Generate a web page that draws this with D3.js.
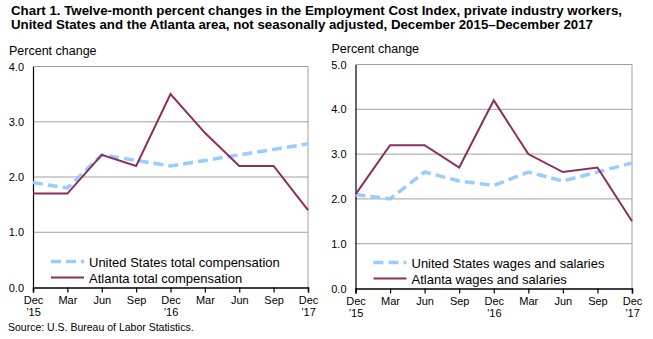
<!DOCTYPE html>
<html>
<head>
<meta charset="utf-8">
<script src="https://cdn.jsdelivr.net/npm/d3@7"></script>
<style>
  body { margin: 0; background: #fff; }
  svg { display: block; font-family: Arial, "Liberation Sans", sans-serif; }
  .title { font-weight: bold; font-size: 13.5px; }
  .unit { font-size: 12.5px; }
  .tick text { font-size: 11px; fill: #000; }
  .legend text { font-size: 13px; }
  .source { font-size: 10.5px; }
</style>
</head>
<body>
<div id="chart"></div>
<script>
const periods = ['Dec|\u201915', 'Mar', 'Jun', 'Sep', 'Dec|\u201916', 'Mar', 'Jun', 'Sep', 'Dec|\u201917'];

const usTotal = [1.9, 1.8, 2.4, 2.3, 2.2, 2.3, 2.4, 2.5, 2.6];
const atlTotal = [1.7, 1.7, 2.4, 2.2, 3.5, 2.8, 2.2, 2.2, 1.4];
const usWages = [2.1, 2.0, 2.6, 2.4, 2.3, 2.6, 2.4, 2.6, 2.8];
const atlWages = [2.1, 3.2, 3.2, 2.7, 4.2, 3.0, 2.6, 2.7, 1.5];

const leftTicks = [0, 1, 2, 3, 4];
const rightTicks = [0, 1, 2, 3, 4, 5];

const colors = { us: '#99ccff', atl: '#8c2d5c' };

const width = 653, height = 339;

const svg = d3.select('#chart').append('svg')
  .attr('width', width)
  .attr('height', height);

const titleLines = [
  'Chart 1. Twelve-month percent changes in the Employment Cost  Index, private industry  workers,',
  'United States and the Atlanta area, not seasonally adjusted, December 2015\u2013December 2017'
];
// the original title is set in a condensed face, so squeeze each line to its width
const titleWidths = [611, 582];

svg.append('g').selectAll('text')
  .data(titleLines)
  .join('text')
  .attr('class', 'title')
  .attr('x', 11)
  .attr('y', (d, i) => 15 + i * 14)
  .attr('textLength', (d, i) => titleWidths[i])
  .attr('lengthAdjust', 'spacingAndGlyphs')
  .text(d => d);

svg.append('text').attr('class', 'source').attr('x', 8).attr('y', 331)
  .text('Source: U.S. Bureau of Labor Statistics.');

function panel(opts) {
  const { left, right, top, bottom, max, ticks, us, atl, labels } = opts;

  const x = d3.scalePoint().domain(d3.range(periods.length)).range([left, right]);
  const y = d3.scaleLinear().domain([0, max]).range([bottom, top]);

  const g = svg.append('g');

  g.append('text').attr('class', 'unit')
    .attr('x', left - 24).attr('y', top - 12)
    .text('Percent change');

  // gridlines
  g.append('g').selectAll('line')
    .data(ticks.filter(t => t > 0))
    .join('line')
    .attr('x1', left).attr('x2', right)
    .attr('y1', d => y(d)).attr('y2', d => y(d))
    .attr('stroke', '#a0a0a0').attr('stroke-width', 1);

  g.append('line')
    .attr('x1', right).attr('x2', right)
    .attr('y1', top).attr('y2', bottom)
    .attr('stroke', '#a0a0a0');

  const yAxis = g.append('g')
    .attr('transform', `translate(${left},0)`)
    .call(d3.axisLeft(y).tickValues(ticks).tickFormat(d3.format('.1f')).tickSize(0).tickPadding(9));
  yAxis.select('.domain').attr('stroke', '#000').attr('stroke-width', 1.2);

  const xAxis = g.append('g')
    .attr('transform', `translate(0,${bottom})`)
    .call(d3.axisBottom(x).tickSize(5).tickFormat(''));
  xAxis.select('.domain').attr('stroke', '#000').attr('stroke-width', 1.5);
  xAxis.selectAll('.tick line').attr('stroke', '#000').attr('stroke-width', 1.2);

  xAxis.selectAll('.tick').each(function (d) {
    const parts = periods[d].split('|');
    const t = d3.select(this).append('text')
      .attr('fill', '#000').attr('text-anchor', 'middle');
    parts.forEach((p, i) => t.append('tspan').attr('x', 0).attr('y', 16 + i * 12).text(p));
  });

  const line = d3.line().x((d, i) => x(i)).y(d => y(d));

  g.append('path').datum(us)
    .attr('d', line).attr('fill', 'none')
    .attr('stroke', colors.us).attr('stroke-width', 3.5)
    .attr('stroke-dasharray', '10,5');

  g.append('path').datum(atl)
    .attr('d', line).attr('fill', 'none')
    .attr('stroke', colors.atl).attr('stroke-width', 2)
    .attr('stroke-linejoin', 'miter');

  const lg = g.append('g').attr('class', 'legend')
    .attr('transform', `translate(${left + 18},${bottom - 26})`);
  lg.append('line').attr('x1', 0).attr('x2', 33).attr('y1', 0).attr('y2', 0)
    .attr('stroke', colors.us).attr('stroke-width', 3.5).attr('stroke-dasharray', '10,5');
  lg.append('text').attr('x', 38).attr('y', 5).text(labels[0]);
  lg.append('line').attr('x1', 0).attr('x2', 33).attr('y1', 16).attr('y2', 16)
    .attr('stroke', colors.atl).attr('stroke-width', 2);
  lg.append('text').attr('x', 38).attr('y', 21).text(labels[1]);
}

panel({
  left: 33, right: 308, top: 66.5, bottom: 287.5, max: 4, ticks: leftTicks,
  us: usTotal, atl: atlTotal,
  labels: ['United States total compensation', 'Atlanta total compensation']
});

panel({
  left: 355.5, right: 632, top: 64.5, bottom: 288.5, max: 5, ticks: rightTicks,
  us: usWages, atl: atlWages,
  labels: ['United States wages and salaries', 'Atlanta wages and salaries']
});
</script>
</body>
</html>
